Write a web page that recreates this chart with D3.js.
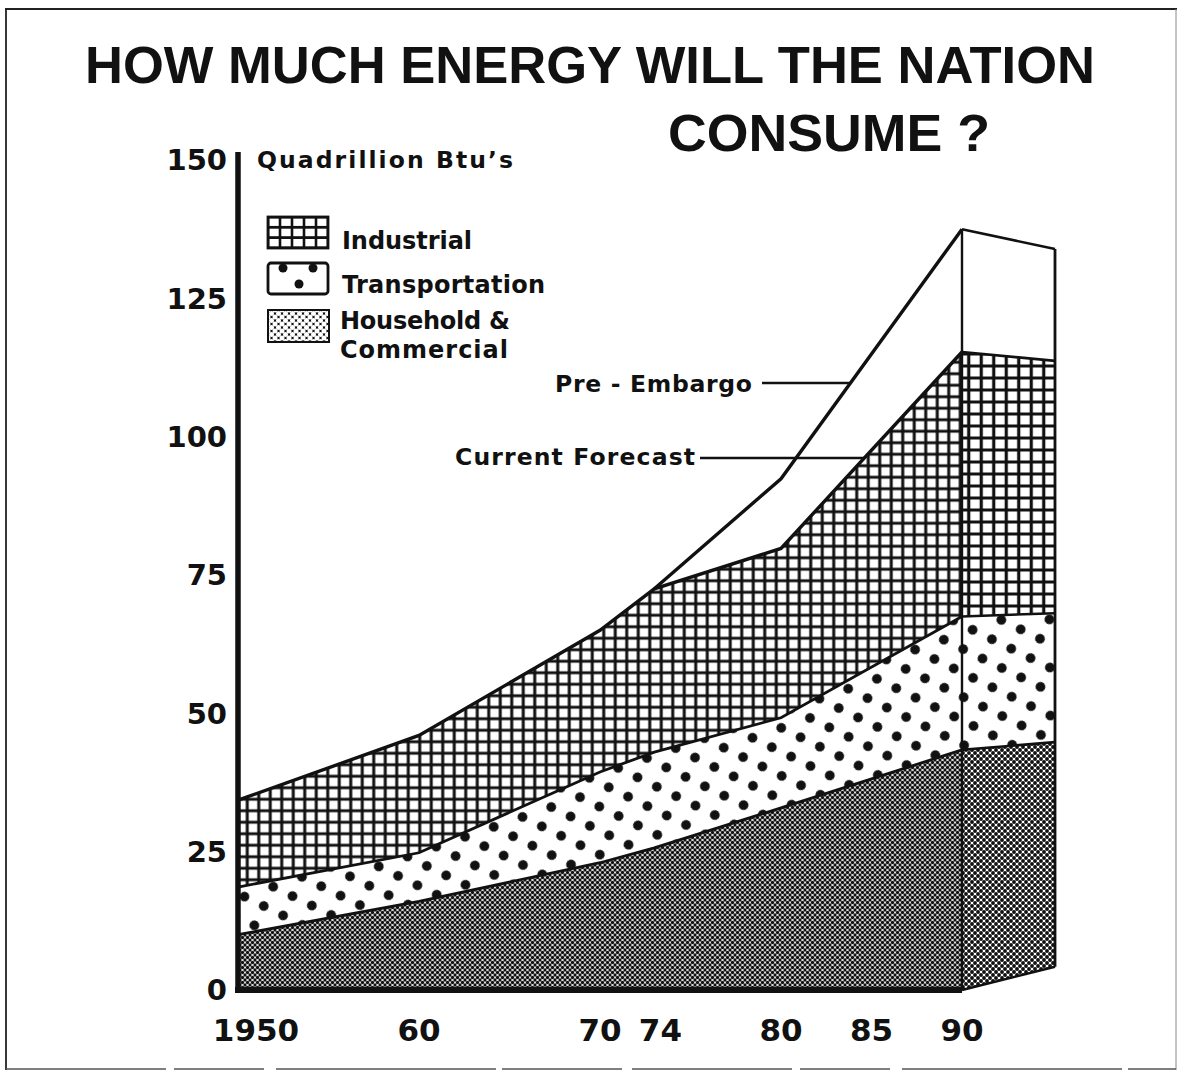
<!DOCTYPE html>
<html>
<head>
<meta charset="utf-8">
<script src="https://cdn.jsdelivr.net/npm/d3@7"></script>
<style>
  body { margin: 0; background: #fff; }
  text { font-family: "DejaVu Sans", Lato, sans-serif; font-weight: bold; fill: #111; }
  .title { font-family: "Liberation Sans", Arial, sans-serif; font-weight: bold; font-size: 52px; }
</style>
</head>
<body>
<div id="vis"></div>
<script>
// values in quadrillion Btu
const years = [1950, 1960, 1970, 1973, 1980, 1990];
const household = [10, 16, 23, 25.7, 32.9, 43.4];
const transportation = [8.6, 8.8, 16.4, 17.3, 16.3, 24.1];
const industrial = [15.7, 21.2, 25.6, 29.5, 30.6, 47.8];

const preEmbargoYears = [1973, 1980, 1990];
const preEmbargoTotal = [72.5, 92.4, 137.5];

// back edge of the "beyond 1990" block: bottom, household, transportation, industrial, pre-embargo
const sideEdge = [4.2, 44.8, 68.1, 113.7, 133.9];

const yTicks = [0, 25, 50, 75, 100, 125, 150];
const xTicks = [1950, 1960, 1970, 1974, 1980, 1985, 1990];
const xTickLabels = ["1950", "60", "70", "74", "80", "85", "90"];

const W = 1179, H = 1077;
const svg = d3.select("#vis").append("svg").attr("width", W).attr("height", H);

const x = d3.scaleLinear().domain([1950, 1990]).range([238, 962]);
const y = d3.scaleLinear().domain([0, 150]).range([990, 160]);
const depth = 93;

// patterns
const defs = svg.append("defs");
function gridPattern(id, w, h, sw, ox, oy) {
  const p = defs.append("pattern").attr("id", id).attr("patternUnits", "userSpaceOnUse")
    .attr("width", w).attr("height", h).attr("x", ox || 0).attr("y", oy || 0);
  p.append("rect").attr("width", w).attr("height", h).attr("fill", "#fff");
  p.append("path").attr("d", `M${w / 2} 0V${h}M0 ${h / 2}H${w}`)
    .attr("stroke", "#111").attr("stroke-width", sw);
}
gridPattern("grid", 11.5, 11.5, 3);
gridPattern("gridSide", 12.5, 12, 3.2);
gridPattern("gridLegend", 12, 10.3, 2.6, 268 - 6, 217 - 5.15);

const dots = defs.append("pattern").attr("id", "dots").attr("patternUnits", "userSpaceOnUse")
  .attr("width", 21.5).attr("height", 21.5).attr("patternTransform", "rotate(26)");
dots.append("rect").attr("width", 21.5).attr("height", 21.5).attr("fill", "#fff");
dots.append("circle").attr("cx", 10.75).attr("cy", 10.75).attr("r", 4.9).attr("fill", "#111");

function finePattern(id, s, r) {
  const p = defs.append("pattern").attr("id", id).attr("patternUnits", "userSpaceOnUse")
    .attr("width", s).attr("height", s);
  p.append("rect").attr("width", s).attr("height", s).attr("fill", "#fff");
  [[0, 0], [s, 0], [0, s], [s, s], [s / 2, s / 2]].forEach(([cx, cy]) =>
    p.append("circle").attr("cx", cx).attr("cy", cy).attr("r", r).attr("fill", "#111"));
}
finePattern("fine", 5, 1.65);
finePattern("fineSide", 6, 1.95);

const chain = defs.append("pattern").attr("id", "chain").attr("patternUnits", "userSpaceOnUse")
  .attr("width", 7).attr("height", 7).attr("x", 268).attr("y", 310);
chain.append("rect").attr("width", 7).attr("height", 7).attr("fill", "#111");
[[0, 0], [7, 0], [0, 7], [7, 7], [3.5, 3.5]].forEach(([cx, cy]) =>
  chain.append("circle").attr("cx", cx).attr("cy", cy).attr("r", 2.5).attr("fill", "#fff"));

// frame
const frame = svg.append("g").attr("stroke", "#222").attr("fill", "none");
frame.append("line").attr("x1", 5).attr("x2", 1177).attr("y1", 9).attr("y2", 9).attr("stroke-width", 2.2);
frame.append("line").attr("x1", 6).attr("x2", 6).attr("y1", 9).attr("y2", 1070).attr("stroke-width", 1.8);
frame.append("line").attr("x1", 1176).attr("x2", 1176).attr("y1", 9).attr("y2", 1070).attr("stroke-width", 1).attr("stroke", "#888");
frame.append("line").attr("x1", 6).attr("x2", 1176).attr("y1", 1069).attr("y2", 1069)
  .attr("stroke-width", 1.6).attr("stroke", "#555").attr("stroke-dasharray", "160 8 90 12 220 6 120 10");

// title
svg.append("text").attr("class", "title").attr("x", 85).attr("y", 83)
  .attr("textLength", 1010).attr("lengthAdjust", "spacingAndGlyphs")
  .text("HOW MUCH ENERGY WILL THE NATION");
svg.append("text").attr("class", "title").attr("x", 668).attr("y", 151)
  .attr("textLength", 322).attr("lengthAdjust", "spacingAndGlyphs")
  .text("CONSUME ?");

// stacked layers
const table = years.map((yr, i) => ({
  year: yr, household: household[i], transportation: transportation[i], industrial: industrial[i]
}));
const keys = ["household", "transportation", "industrial"];
const fills = { household: "url(#fine)", transportation: "url(#dots)", industrial: "url(#grid)" };
const sideFills = ["url(#fineSide)", "url(#dots)", "url(#gridSide)", "#fff"];
const series = d3.stack().keys(keys)(table);

const area = d3.area()
  .x((d) => x(d.data.year))
  .y0((d) => y(d[0]))
  .y1((d) => y(d[1]));
const line = d3.line()
  .x((d) => x(d.data.year))
  .y((d) => y(d[1]));

svg.append("g").selectAll("path").data(series).join("path")
  .attr("d", area).attr("fill", (d) => fills[d.key]);

// side block beyond 1990
const last = series.map((s) => s[s.length - 1][1]);
const front = [0, ...last, preEmbargoTotal[preEmbargoTotal.length - 1]];
const x90 = x(1990), xR = x90 + depth;
const side = svg.append("g");
d3.range(4).forEach((i) => {
  side.append("path")
    .attr("d", `M${x90},${y(front[i])}L${x90},${y(front[i + 1])}L${xR},${y(sideEdge[i + 1])}L${xR},${y(sideEdge[i])}Z`)
    .attr("fill", sideFills[i]);
});
front.forEach((v, i) => {
  side.append("line").attr("x1", x90).attr("y1", y(v)).attr("x2", xR).attr("y2", y(sideEdge[i]))
    .attr("stroke", "#111").attr("stroke-width", 2.6);
});
side.append("line").attr("x1", x90).attr("x2", x90).attr("y1", y(front[4])).attr("y2", y(0))
  .attr("stroke", "#111").attr("stroke-width", 2.4);
side.append("line").attr("x1", xR).attr("x2", xR).attr("y1", y(sideEdge[4])).attr("y2", y(sideEdge[0]))
  .attr("stroke", "#111").attr("stroke-width", 2.8);

// layer boundaries
svg.append("g").selectAll("path").data(series).join("path")
  .attr("d", line).attr("fill", "none").attr("stroke", "#111")
  .attr("stroke-width", (d) => (d.key === "industrial" ? 3.4 : 2.8));

const preLine = d3.line().x((d) => x(d[0])).y((d) => y(d[1]));
const prePts = preEmbargoYears.map((yr, i) => [yr, preEmbargoTotal[i]]);
svg.append("path").attr("d", preLine(prePts)).attr("fill", "none")
  .attr("stroke", "#111").attr("stroke-width", 3.4);

// axes
const ax = svg.append("g").attr("stroke", "#111");
ax.append("line").attr("x1", x(1950)).attr("x2", x(1950)).attr("y1", y(150) - 8).attr("y2", y(0) + 3)
  .attr("stroke-width", 5.5);
ax.append("line").attr("x1", x(1950) - 3).attr("x2", x(1990)).attr("y1", y(0)).attr("y2", y(0))
  .attr("stroke-width", 6);

svg.append("g").selectAll("text").data(yTicks).join("text")
  .attr("x", 227).attr("y", (d) => y(d)).attr("dy", "0.36em")
  .attr("text-anchor", "end").style("font-size", "29px")
  .text((d) => d);

svg.append("g").selectAll("text").data(xTicks).join("text")
  .attr("x", (d) => x(d) + (d === 1950 ? 18 : d === 1974 ? -12 : 0))
  .attr("y", 1041).attr("text-anchor", "middle")
  .style("font-size", "31px")
  .text((d, i) => xTickLabels[i]);

svg.append("text").attr("x", 257).attr("y", 168).style("font-size", "23.5px")
  .attr("textLength", 256).attr("lengthAdjust", "spacing").text("Quadrillion Btu\u2019s");

// legend
const lg = svg.append("g");
lg.append("rect").attr("x", 268).attr("y", 217).attr("width", 60).attr("height", 31)
  .attr("fill", "url(#gridLegend)").attr("stroke", "#111").attr("stroke-width", 2.8);
lg.append("rect").attr("x", 268).attr("y", 263).attr("width", 60).attr("height", 31).attr("rx", 3)
  .attr("fill", "#fff").attr("stroke", "#111").attr("stroke-width", 2.8);
[[283, 268], [313, 268], [299, 284]].forEach(([cx, cy]) =>
  lg.append("circle").attr("cx", cx).attr("cy", cy).attr("r", 4.5).attr("fill", "#111"));
lg.append("rect").attr("x", 268).attr("y", 310).attr("width", 61).attr("height", 32)
  .attr("fill", "url(#chain)").attr("stroke", "#111").attr("stroke-width", 2);

const legendText = [
  ["Industrial", 342, 249, 130],
  ["Transportation", 342, 293, 203],
  ["Household &", 340, 329, 170],
  ["Commercial", 340, 358, 168]
];
lg.selectAll("text.lab").data(legendText).join("text").attr("class", "lab")
  .attr("x", (d) => d[1]).attr("y", (d) => d[2])
  .attr("textLength", (d) => d[3]).attr("lengthAdjust", "spacing")
  .style("font-size", "24px")
  .text((d) => d[0]);

// annotations with leader lines
function crossYear(pts, v) {
  for (let i = 1; i < pts.length; i++) {
    const [a, va] = pts[i - 1], [b, vb] = pts[i];
    if ((v - va) * (v - vb) <= 0) return a + ((v - va) / (vb - va)) * (b - a);
  }
  return pts[pts.length - 1][0];
}
const forecastPts = series[2].map((d) => [d.data.year, d[1]]);

const preY = 383, curY = 458;
svg.append("text").attr("x", 555).attr("y", 392).style("font-size", "23.5px")
  .attr("textLength", 197).attr("lengthAdjust", "spacing").text("Pre - Embargo");
svg.append("line").attr("x1", 762).attr("y1", preY)
  .attr("x2", x(crossYear(prePts, y.invert(preY)))).attr("y2", preY)
  .attr("stroke", "#111").attr("stroke-width", 2.4);

svg.append("text").attr("x", 455).attr("y", 465).style("font-size", "23.5px")
  .attr("textLength", 240).attr("lengthAdjust", "spacing").text("Current Forecast");
svg.append("line").attr("x1", 700).attr("y1", curY)
  .attr("x2", x(crossYear(forecastPts, y.invert(curY)))).attr("y2", curY)
  .attr("stroke", "#111").attr("stroke-width", 2.4);
</script>
</body>
</html>
